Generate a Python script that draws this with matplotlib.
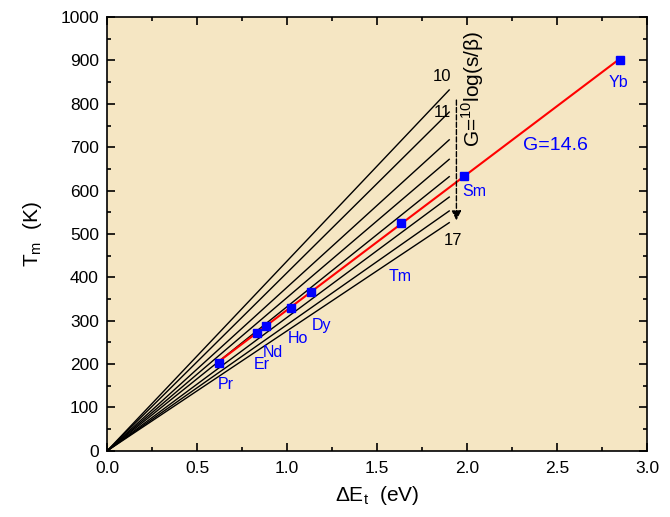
import numpy as np
import matplotlib.pyplot as plt
from matplotlib.ticker import MultipleLocator

plt.rcParams['font.family'] = ['Liberation Sans', 'DejaVu Sans']
plt.rcParams['mathtext.fontset'] = 'custom'
plt.rcParams['mathtext.rm'] = 'Liberation Sans'

# G lines: Tm values at dE = 1.9 eV for G = 10..17
g_values = [10, 11, 12, 13, 14, 15, 16, 17]
line_end_x = 1.9
line_end_tm = [832, 781, 717, 672, 632, 585, 553, 526]

# rare earth points
elements = ['Pr', 'Er', 'Nd', 'Ho', 'Dy', 'Tm', 'Sm', 'Yb']
delta_e = [0.62, 0.83, 0.88, 1.02, 1.13, 1.63, 1.98, 2.85]
tm = [203, 272, 288, 330, 367, 525, 634, 902]
label_x = [0.66, 0.86, 0.92, 1.06, 1.19, 1.63, 2.04, 2.84]
label_y = [152, 198, 226, 260, 290, 403, 597, 848]

fig = plt.figure(figsize=(6.7, 5.17), dpi=100)
ax = fig.add_axes([0.16, 0.128, 0.806, 0.839])
ax.set_facecolor('#f5e6c3')

for g, yend in zip(g_values, line_end_tm):
    ax.plot([0, line_end_x], [0, yend], color='black', lw=1.0)

ax.text(1.86, 862, '10', fontsize=12, ha='center', va='center')
ax.text(1.86, 779, '11', fontsize=12, ha='center', va='center')
ax.text(1.92, 486, '17', fontsize=12, ha='center', va='center')

# fit line
coef = np.polyfit(delta_e, tm, 1)
xs = np.array([min(delta_e), max(delta_e)])
ax.plot(xs, np.polyval(coef, xs), color='red', lw=1.5, zorder=3)
ax.plot(delta_e, tm, 's', color='blue', ms=6, zorder=4)

for name, lx, ly in zip(elements, label_x, label_y):
    ax.text(lx, ly, name, color='blue', fontsize=11.5, ha='center', va='center')
ax.text(2.49, 705, 'G=14.6', color='blue', fontsize=14, ha='center', va='center')

# arrow
ax.annotate('', xy=(1.94, 525), xytext=(1.94, 815),
            arrowprops=dict(arrowstyle='-|>', color='black', lw=1.0,
                            linestyle='--', mutation_scale=14))
ax.text(2.03, 835, r'G=$^{10}$log(s/β)', rotation=90, fontsize=15,
        ha='center', va='center')

ax.set_xlim(0, 3.0)
ax.set_ylim(0, 1000)
ax.xaxis.set_major_locator(MultipleLocator(0.5))
ax.xaxis.set_minor_locator(MultipleLocator(0.25))
ax.yaxis.set_major_locator(MultipleLocator(100))
ax.yaxis.set_minor_locator(MultipleLocator(50))
ax.tick_params(which='both', direction='in', top=True, right=True, labelsize=12.5)
ax.tick_params(which='major', length=6, width=1.2)
ax.tick_params(which='minor', length=3, width=1.2)
ax.tick_params(axis='x', pad=7)
ax.tick_params(axis='y', pad=6)
for s in ax.spines.values():
    s.set_linewidth(1.2)

ax.set_xlabel(r'$\Delta$E$_{\rm t}$  (eV)', fontsize=15, labelpad=6)
ax.set_ylabel(r'T$_{\rm m}$  (K)', fontsize=15, labelpad=12)

fig.savefig('out.png', dpi=100)
